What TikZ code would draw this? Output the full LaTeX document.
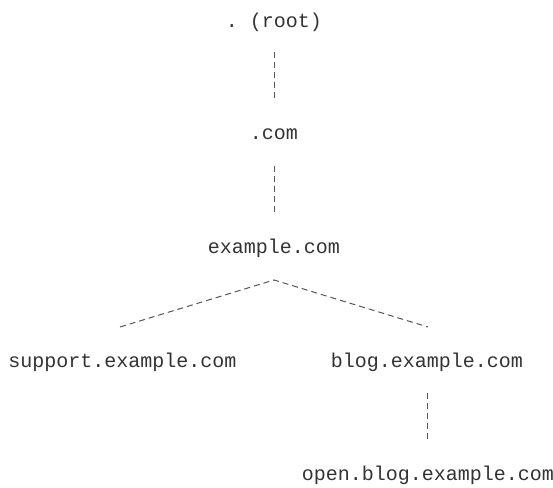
\documentclass[tikz,border=0pt]{standalone}
\usepackage{fontspec}
\setmonofont{Liberation Mono}
\definecolor{txt}{HTML}{333333}
\definecolor{ln}{HTML}{555555}
\begin{document}
\begin{tikzpicture}[x=0.75pt,y=-0.75pt,
  lbl/.style={anchor=base,inner sep=0pt,text=txt,font=\ttfamily\fontsize{15}{18}\selectfont},
  conn/.style={draw=ln,line width=0.75pt,dash pattern=on 4.5pt off 3pt}]
\useasboundingbox (0,0) rectangle (553,488);
\node[lbl] (root) at (274,28) {. (root)};
\node[lbl] (com) at (274,140) {.com};
\node[lbl] (ex) at (274,253) {example.com};
\node[lbl] (sup) at (122.5,367) {support.example.com};
\node[lbl] (blog) at (427,367) {blog.example.com};
\node[lbl] (open) at (428,480) {open.blog.example.com};
\coordinate (r1) at (274,52);
\coordinate (r2) at (274,100);
\coordinate (c1) at (274,166);
\coordinate (c2) at (274,214);
\coordinate (apex) at (274,280);
\coordinate (sl) at (120,327);
\coordinate (sr) at (428,327);
\coordinate (b1) at (427,393);
\coordinate (b2) at (427,443);
\draw[conn] (r1) -- (r2);
\draw[conn] (c1) -- (c2);
\draw[conn] (sl) -- (apex) -- (sr);
\draw[conn] (b1) -- (b2);
\end{tikzpicture}
\end{document}
